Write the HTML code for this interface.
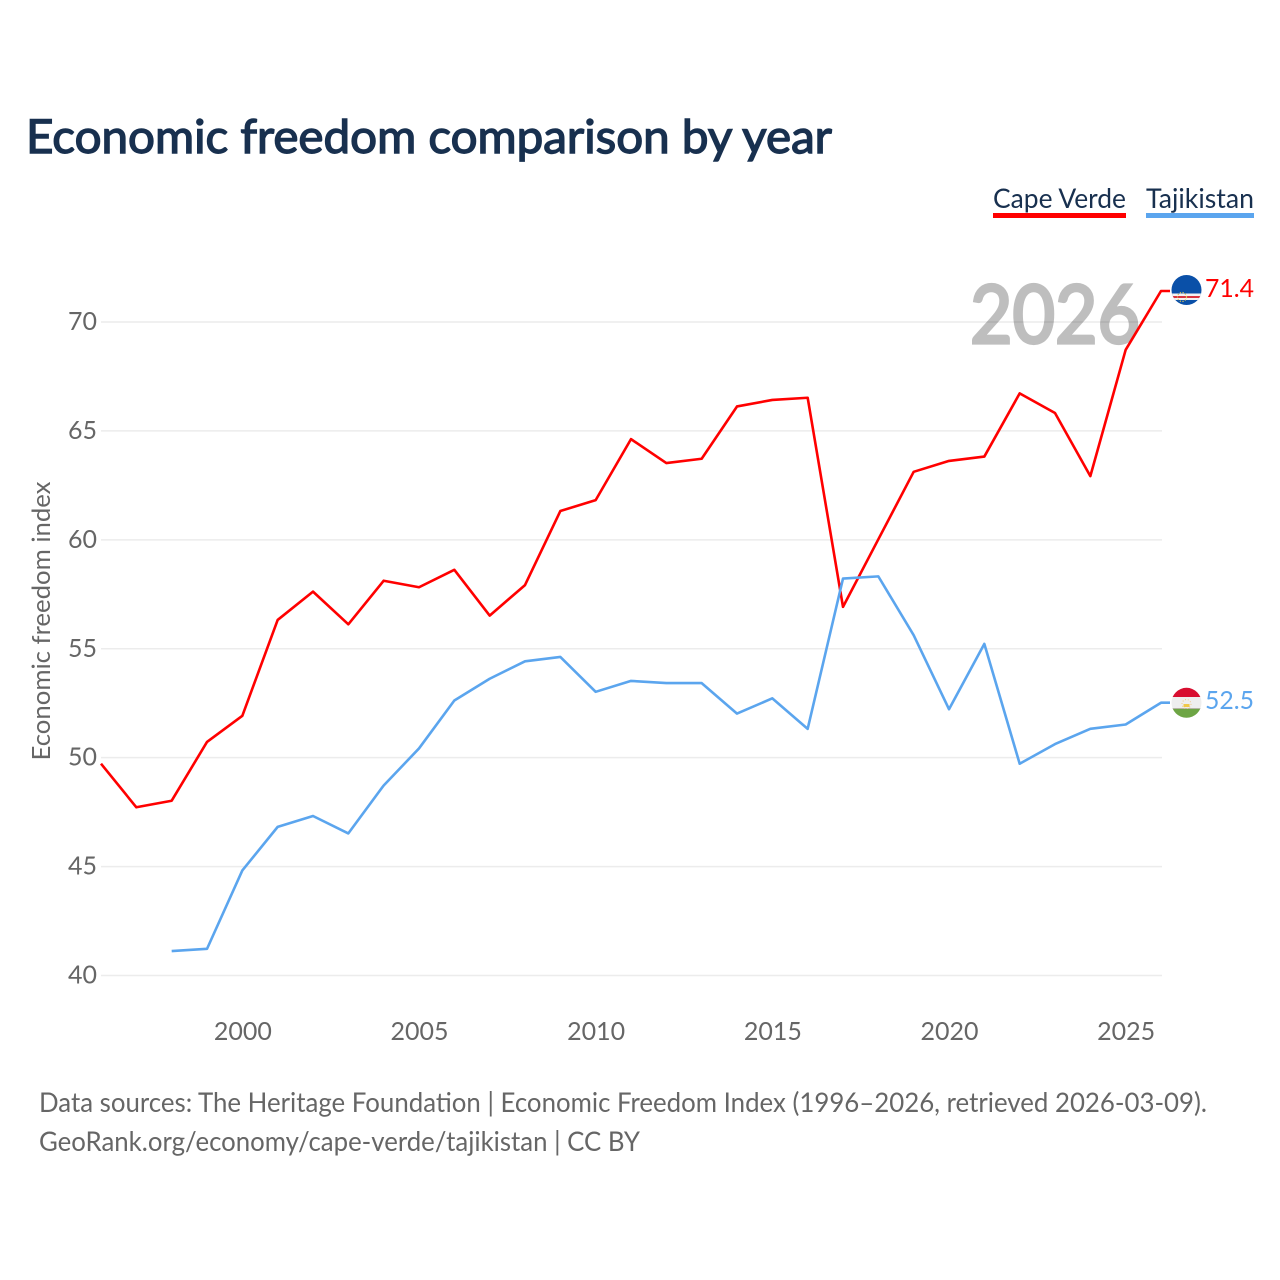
<!DOCTYPE html>
<html lang="en">
<head>
<meta charset="utf-8">
<title>Economic freedom comparison by year</title>
<style>
html,body{margin:0;padding:0;background:#fff;width:1280px;height:1280px;overflow:hidden}
svg{display:block;font-family:"Lato","Carlito","Liberation Sans",sans-serif}
</style>
</head>
<body>
<svg id="chart" xmlns="http://www.w3.org/2000/svg" width="1280" height="1280" viewBox="0 0 1280 1280">
  <defs>
    <clipPath id="flag-clip-cv"><circle cx="1186.500" cy="290" r="15"/></clipPath>
    <clipPath id="flag-clip-tj"><circle cx="1186.500" cy="702.800" r="15"/></clipPath>
  </defs>
  <rect x="0" y="0" width="1280" height="1280" fill="#fff"/>
  <text x="26" y="153" font-size="47" font-weight="400" fill="#18304f" stroke="#18304f" stroke-width="1.400" textLength="806" lengthAdjust="spacingAndGlyphs">Economic freedom comparison by year</text>

  <g id="grid"></g>
  <g id="yticks"></g>
  <g id="xticks"></g>
  <text transform="translate(50,621) rotate(-90)" text-anchor="middle" font-size="25" fill="#666666" textLength="279" lengthAdjust="spacingAndGlyphs">Economic freedom index</text>

  <text x="1140" y="343" text-anchor="end" font-size="81" font-weight="400" fill="#000" stroke="#000" stroke-width="3.200" opacity="0.25" textLength="170" lengthAdjust="spacingAndGlyphs">2026</text>

  <g id="lines"></g>

  <g clip-path="url(#flag-clip-cv)">
    <rect x="1171" y="275" width="31" height="30" fill="#0a50a8"/>
    <rect x="1171" y="293.500" width="31" height="6.500" fill="#f2f2f2"/>
    <rect x="1171" y="296" width="31" height="2" fill="#d8343f"/>
    <circle cx="1182" cy="297" r="4.500" fill="none" stroke="#d9c35a" stroke-width="1.200" stroke-dasharray="1.200 1.500"/>
  </g>
  <g clip-path="url(#flag-clip-tj)">
    <rect x="1171" y="687" width="31" height="32" fill="#eeeeee"/>
    <rect x="1171" y="687" width="31" height="10" fill="#d80e30"/>
    <rect x="1171" y="708" width="31" height="1.500" fill="#b5b5a5"/>
    <rect x="1171" y="709" width="31" height="10" fill="#6da544"/>
    <rect x="1183.500" y="704" width="6" height="3" fill="#f0c94a"/>
    <circle cx="1186.500" cy="704" r="4.500" fill="none" stroke="#f0c98a" stroke-width="1" stroke-dasharray="1 1.800"/>
  </g>

  <text x="1254" y="297" text-anchor="end" font-size="25" fill="#ff0000" textLength="49" lengthAdjust="spacingAndGlyphs">71.4</text>
  <text x="1254" y="709" text-anchor="end" font-size="25" fill="#5ba5ee" textLength="49" lengthAdjust="spacingAndGlyphs">52.5</text>

  <g>
    <g>
      <text x="993" y="208" font-size="27" fill="#18304f" textLength="133" lengthAdjust="spacingAndGlyphs">Cape Verde</text>
      <rect x="993" y="213" width="133" height="5" fill="#ff0000"/>
    </g>
    <g>
      <text x="1146" y="208" font-size="27" fill="#18304f" textLength="108" lengthAdjust="spacingAndGlyphs">Tajikistan</text>
      <rect x="1146" y="213" width="108" height="5" fill="#5ba5ee"/>
    </g>
  </g>

  <text x="39" y="1112" font-size="27" fill="#666666" textLength="1168" lengthAdjust="spacingAndGlyphs">Data sources: The Heritage Foundation | Economic Freedom Index (1996–2026, retrieved 2026-03-09).</text>
  <text x="39" y="1151" font-size="27" fill="#666666" textLength="601" lengthAdjust="spacingAndGlyphs">GeoRank.org/economy/cape-verde/tajikistan | CC BY</text>
</svg>
<script>
const years = [1996,1997,1998,1999,2000,2001,2002,2003,2004,2005,2006,2007,2008,2009,2010,2011,2012,2013,2014,2015,2016,2017,2018,2019,2020,2021,2022,2023,2024,2025,2026];
const capeVerde = [49.7,47.7,48.0,50.7,51.9,56.3,57.6,56.1,58.1,57.8,58.6,56.5,57.9,61.3,61.8,64.6,63.5,63.7,66.1,66.4,66.5,56.9,60.0,63.1,63.6,63.8,66.7,65.8,62.9,68.7,71.4];
const tajikistan = [null,null,41.1,41.2,44.8,46.8,47.3,46.5,48.7,50.4,52.6,53.6,54.4,54.6,53.0,53.5,53.4,53.4,52.0,52.7,51.3,58.2,58.3,55.6,52.2,55.2,49.7,50.6,51.3,51.5,52.5];
const yTicks = [40,45,50,55,60,65,70];
const xTicks = [2000,2005,2010,2015,2020,2025];

const NS = 'http://www.w3.org/2000/svg';
function xScale(year){ return 101 + (year - 1996) * (1161 - 101) / (2026 - 1996); }
function yScale(v){ return 975.5 - (v - 40) * (975.5 - 322) / (70 - 40); }
function make(tag, parent, attrs){
  const el = document.createElementNS(NS, tag);
  for (const k in attrs) el.setAttribute(k, attrs[k]);
  parent.appendChild(el);
  return el;
}
const grid = document.getElementById('grid');
const yG = document.getElementById('yticks');
const xG = document.getElementById('xticks');
const linesG = document.getElementById('lines');
const lineOffset = -0.5;

yTicks.forEach(function(t){
  const line = make('line', grid, {x1:101, x2:1162, y1:yScale(t), y2:yScale(t), stroke:'#ececec', 'stroke-width':1.5});
  
  
  const label = make('text', yG, {x:97, y:yScale(t)+8, 'text-anchor':'end', 'font-size':25, fill:'#666666'});
  
  
  label.textContent = t;
});
xTicks.forEach(function(t){
  const label = make('text', xG, {x:xScale(t)+0.5, y:1040, 'text-anchor':'middle', 'font-size':25, fill:'#666666'});
  
  
  label.textContent = t;
});
function pathFor(values){
  let d = '';
  values.forEach(function(v, i){
    if (v === null) return;
    d += (d ? 'L' : 'M') + xScale(years[i]).toFixed(2) + ' ' + (yScale(v) + lineOffset).toFixed(2);
  });
  return d;
}
const lineCV = make('path', linesG, {d:pathFor(capeVerde) + 'H1170', fill:'none', stroke:'#ff0000', 'stroke-width':2.6, 'stroke-linejoin':'round'});


const lineTJ = make('path', linesG, {d:pathFor(tajikistan) + 'H1170', fill:'none', stroke:'#5ba5ee', 'stroke-width':2.6, 'stroke-linejoin':'round'});


</script>
</body>
</html>
